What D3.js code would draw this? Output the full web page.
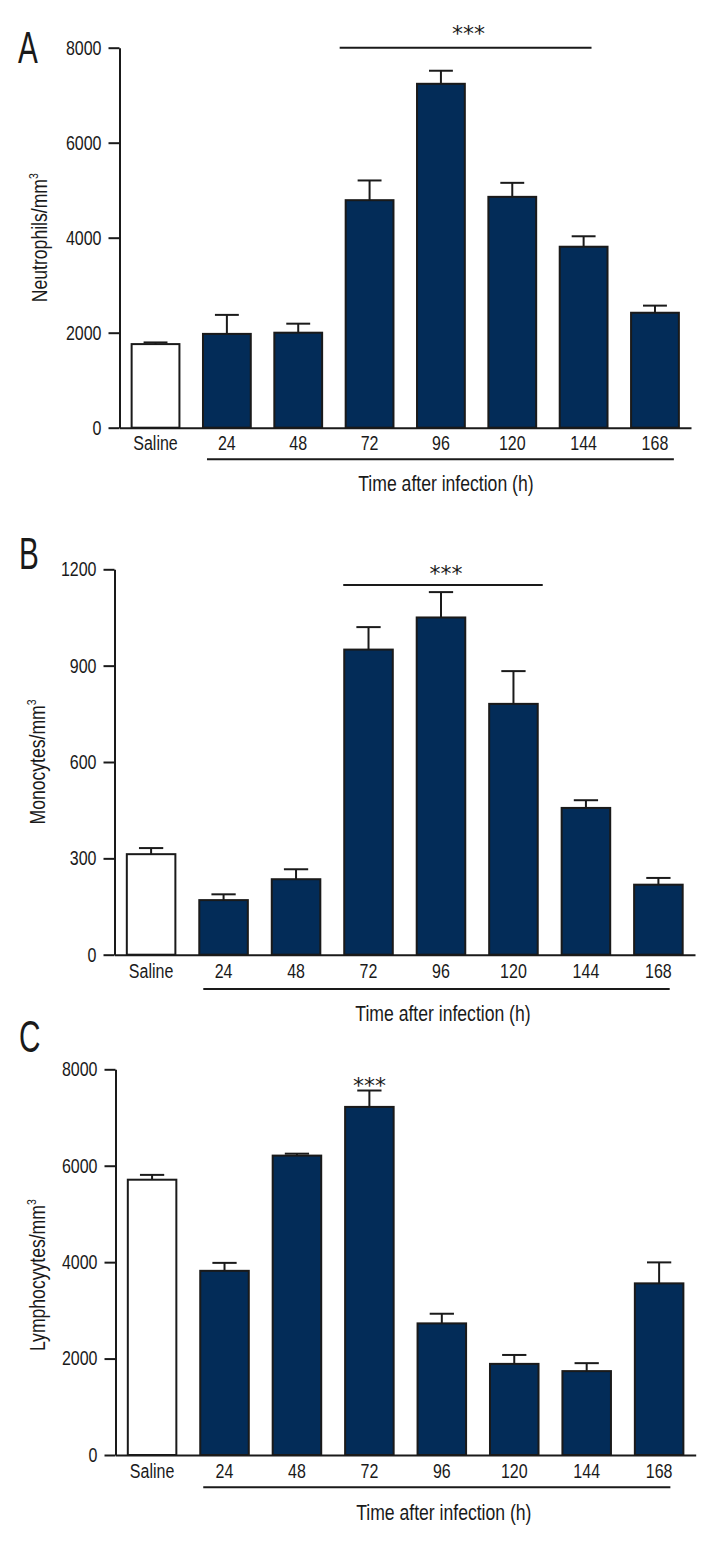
<!DOCTYPE html>
<html>
<head>
<meta charset="utf-8">
<script src="https://cdn.jsdelivr.net/npm/d3@7"></script>
<style>
  body { margin: 0; background: #fff; }
  svg text { font-family: "Liberation Sans", Arial, sans-serif; fill: #1a1a1a; }
  .axis path, .axis line { stroke: #1a1a1a; stroke-width: 2; }
</style>
</head>
<body>
<svg id="chart" width="720" height="1552"></svg>
<script>
// categories (x axis)
var categories = ["Saline", "24", "48", "72", "96", "120", "144", "168"];

// A - neutrophils/mm3, mean and SEM
var neutrophils    = [1760, 1975, 2000, 4790, 7240, 4860, 3810, 2420];
var neutrophilsErr = [35, 400, 190, 415, 275, 295, 220, 150];
var neutrophilTicks = [0, 2000, 4000, 6000, 8000];

// B - monocytes/mm3
var monocytes    = [313, 170, 235, 950, 1050, 781, 457, 218];
var monocytesErr = [19, 18, 31, 70, 79, 102, 24, 21];
var monocyteTicks = [0, 300, 600, 900, 1200];

// C - lymphocytes/mm3
var lymphocytes    = [5710, 3820, 6210, 7220, 2730, 1890, 1740, 3560];
var lymphocytesErr = [100, 165, 40, 340, 200, 185, 165, 435];
var lymphocyteTicks = [0, 2000, 4000, 6000, 8000];

var svg = d3.select("#chart");
var navy = "#032c58";
var narrow = 0.8; // the figure uses a condensed face, squeeze Liberation Sans

function label(g, x, y, size, str, anchor, extra) {
  return g.append("text")
      .attr("transform", "translate(" + x + "," + y + ")" + (extra || "") + " scale(" + narrow + ",1)")
      .attr("text-anchor", anchor || "start")
      .style("font-size", size + "px")
      .text(str);
}

function drawPanel(p) {
  var y = d3.scaleLinear().domain([0, d3.max(p.ticks)]).range([p.bottom, p.top]);
  var x = d3.scaleBand().domain(categories).range([p.left, p.right])
      .paddingInner(0.33).paddingOuter(0.17);

  var g = svg.append("g");

  // panel letter
  g.append("text")
      .attr("transform", "translate(" + p.letterX + "," + p.letterY + ") scale(0.66,1)")
      .style("font-size", "45px").text(p.letter);

  // y axis
  var ya = g.append("g").attr("class", "axis")
      .attr("transform", "translate(" + p.left + ",0)")
      .call(d3.axisLeft(y).tickValues(p.ticks).tickSize(11).tickSizeOuter(0).tickFormat(d3.format("d")));
  ya.selectAll("text")
      .attr("x", 0)
      .attr("transform", "translate(-18,0) scale(" + narrow + ",1)")
      .style("font-size", "20px");

  // y label
  var yl = g.append("text")
      .attr("transform", "translate(" + p.labelX + "," + ((p.top + p.bottom) / 2 + p.labelShift) + ") rotate(-90) scale(" + narrow + ",1)")
      .attr("text-anchor", "middle")
      .style("font-size", "22px");
  yl.append("tspan").text(p.label + "/mm");
  yl.append("tspan").attr("dy", -9).style("font-size", "13px").text("3");

  // bars
  g.selectAll(".bar")
    .data(p.values)
    .enter().append("rect")
      .attr("class", "bar")
      .attr("x", function(d, i) { return x(categories[i]); })
      .attr("y", function(d) { return y(d); })
      .attr("width", x.bandwidth())
      .attr("height", function(d) { return p.bottom - y(d); })
      .attr("fill", function(d, i) { return i === 0 ? "#fff" : navy; })
      .attr("stroke", "#1a1a1a")
      .attr("stroke-width", 2);

  // error bars (upper only)
  var cap = x.bandwidth() / 4;
  p.values.forEach(function(v, i) {
    var cx = x(categories[i]) + x.bandwidth() / 2;
    var top = y(v + p.errs[i]);
    g.append("line").attr("x1", cx).attr("x2", cx).attr("y1", y(v)).attr("y2", top)
        .attr("stroke", "#1a1a1a").attr("stroke-width", 2);
    g.append("line").attr("x1", cx - cap).attr("x2", cx + cap).attr("y1", top).attr("y2", top)
        .attr("stroke", "#1a1a1a").attr("stroke-width", 2);
  });

  // x axis (baseline + labels)
  var xa = g.append("g").attr("class", "axis")
      .attr("transform", "translate(0," + p.bottom + ")")
      .call(d3.axisBottom(x).tickSize(0).tickSizeOuter(0).tickPadding(p.tickPad));
  xa.selectAll("text")
      .attr("transform", "scale(" + narrow + ",1)")
      .style("font-size", "20px");

  // line under the infected groups
  g.append("line")
      .attr("x1", x("24") + p.underL).attr("x2", x("168") + x.bandwidth() + p.underR)
      .attr("y1", p.bottom + p.underY).attr("y2", p.bottom + p.underY)
      .attr("stroke", "#1a1a1a").attr("stroke-width", 2);
  label(g, (x("24") + x("168") + x.bandwidth()) / 2 + p.titleDx, p.bottom + p.titleY, 22,
      "Time after infection (h)", "middle");

  // significance
  if (p.sig) {
    var s = p.sig;
    var x1 = x(s.from) + s.offL, x2 = x(s.to) + x.bandwidth() + s.offR;
    if (s.line) {
      g.append("line").attr("x1", x1).attr("x2", x2).attr("y1", s.lineY).attr("y2", s.lineY)
          .attr("stroke", "#1a1a1a").attr("stroke-width", 2);
    }
    g.append("text")
        .attr("x", s.line ? (x1 + x2) / 2 + 3 : x(s.from) + x.bandwidth() / 2)
        .attr("y", s.starY)
        .attr("text-anchor", "middle")
        .style("font-family", "DejaVu Sans")
        .style("font-size", "22px")
        .text("***");
  }
}

drawPanel({
  letter: "A", letterX: 18, letterY: 63,
  values: neutrophils, errs: neutrophilsErr, ticks: neutrophilTicks,
  label: "Neutrophils", labelX: 47, labelShift: 0,
  left: 119.5, right: 691, top: 47.7, bottom: 427.7,
  tickPad: 8, underY: 31.6, underL: 4, underR: -5, titleY: 63, titleDx: 5,
  sig: { from: "72", to: "144", offL: -6, offR: -16, line: true, lineY: 47.7, starY: 41 }
});

drawPanel({
  letter: "B", letterX: 19, letterY: 569,
  values: monocytes, errs: monocytesErr, ticks: monocyteTicks,
  label: "Monocytes", labelX: 45, labelShift: 0,
  left: 114.5, right: 695, top: 569.3, bottom: 954.7,
  tickPad: 9, underY: 34.3, underL: 4, underR: -13, titleY: 66, titleDx: 2,
  sig: { from: "72", to: "120", offL: -1, offR: 5, line: true, lineY: 585, starY: 581 }
});

drawPanel({
  letter: "C", letterX: 19, letterY: 1052,
  values: lymphocytes, errs: lymphocytesErr, ticks: lymphocyteTicks,
  label: "Lymphocyytes", labelX: 45, labelShift: 13,
  left: 115.5, right: 695.7, top: 1069.3, bottom: 1455,
  tickPad: 9, underY: 32.3, underL: 3, underR: -13, titleY: 65, titleDx: 2,
  sig: { from: "72", to: "72", offL: 0, offR: 0, line: false, starY: 1093 }
});
</script>
</body>
</html>
